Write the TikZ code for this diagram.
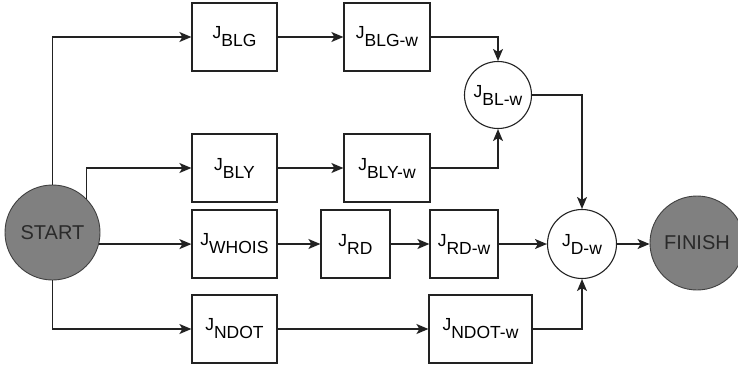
\documentclass[tikz,border=0pt]{standalone}
\usepackage{fontspec}
\setmainfont{Liberation Sans}
\usetikzlibrary{arrows.meta}
\definecolor{linec}{HTML}{222222}
\definecolor{termfill}{HTML}{808080}
\definecolor{termtext}{HTML}{2A2A2A}
\newcommand{\jlab}[1]{\fontsize{17.5}{17.5}\selectfont J\raisebox{-8pt}{#1}}
\tikzset{
  box/.style={draw=linec, line width=1.2pt, rectangle, minimum height=68pt, inner sep=0pt},
  joinnode/.style={draw=linec, line width=1.1pt, circle, fill=white, inner sep=0pt},
  term/.style={draw=black!75, line width=0.9pt, circle, fill=termfill, inner sep=0pt,
    font=\fontsize{20}{20}\selectfont, text=termtext},
  arr/.style={draw=linec, line width=1.4pt, -{Stealth[length=12pt,width=10pt,inset=3pt]}},
}
\begin{document}
\begin{tikzpicture}[x=1pt,y=-1pt]
\useasboundingbox (0,0) rectangle (738,367);
\node[term, minimum size=95pt] (start) at (52.5,232.5) {START};
\node[term, minimum size=94pt] (finish) at (697,243) {FINISH};
\node[box, minimum width=85pt] (blg) at (234.5,37) {\jlab{BLG}};
\node[box, minimum width=85pt] (bly) at (234.5,168) {\jlab{BLY}};
\node[box, minimum width=85pt] (whois) at (234.5,244) {\jlab{WHOIS}};
\node[box, minimum width=85pt] (ndot) at (234.5,329) {\jlab{NDOT}};
\node[box, minimum width=86pt] (blgw) at (387,37) {\jlab{BLG-w}};
\node[box, minimum width=86pt] (blyw) at (387,168) {\jlab{BLY-w}};
\node[box, minimum width=69pt] (rd) at (355.5,244) {\jlab{RD}};
\node[box, minimum width=68pt] (rdw) at (464,244) {\jlab{RD-w}};
\node[box, minimum width=103pt] (ndotw) at (480.5,329) {\jlab{NDOT-w}};
\node[joinnode, minimum size=67pt] (blw) at (498,95) {\jlab{BL-w}};
\node[joinnode, minimum size=69pt] (dw) at (582,244) {\jlab{D-w}};

\draw[arr] (start.north) |- (blg.west);
\draw[arr] (start.north east) |- (bly.west);
\draw[arr] (start.-14) -- (start.-14 -| whois.west);
\draw[arr] (start.south) |- (ndot.west);
\draw[arr] (blg) -- (blgw);
\draw[arr] (bly) -- (blyw);
\draw[arr] (blgw.east) -| (blw.north);
\draw[arr] (blyw.east) -| (blw.south);
\draw[arr] (blw.east) -| (dw.north);
\draw[arr] (whois) -- (rd);
\draw[arr] (rd) -- (rdw);
\draw[arr] (rdw) -- (dw);
\draw[arr] (ndot) -- (ndotw);
\draw[arr] (ndotw.east) -| (dw.south);
\draw[arr] (dw) -- (finish.west |- dw.east);
\end{tikzpicture}
\end{document}
